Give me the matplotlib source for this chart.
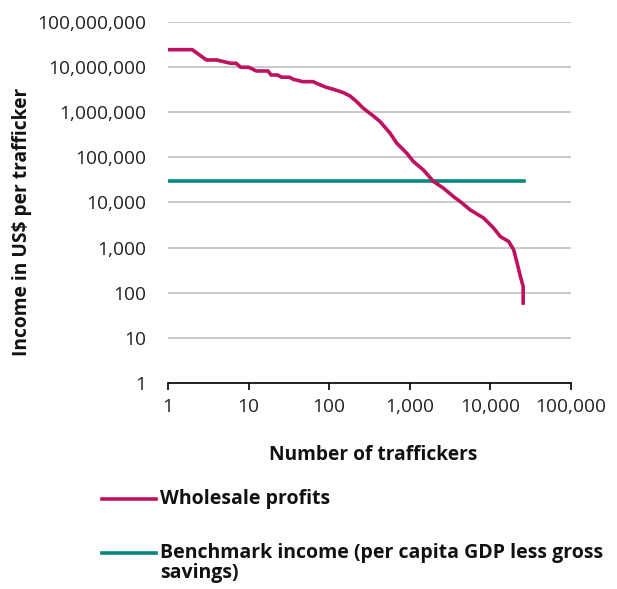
import numpy as np
import matplotlib
matplotlib.use("Agg")
import matplotlib.pyplot as plt
from matplotlib.lines import Line2D
from matplotlib.ticker import FixedLocator, FuncFormatter

# Wholesale profits per trafficker, ranked (cumulative number of traffickers)
traffickers = [1, 2, 3, 4, 6, 7, 8, 10, 12.5, 17.4, 19, 23, 25.6, 32, 36, 47, 63,
               77, 93, 112, 149, 181, 219, 265, 352, 428, 569, 689, 918, 1109,
               1477, 1966, 2618, 3484, 4225, 5620, 8230, 10960, 13280, 16840,
               19440, 21440, 23570, 25500, 25500]
profits = [24e6, 24e6, 14.2e6, 14.2e6, 12e6, 12e6, 9.8e6, 9.8e6, 8.1e6, 8.1e6,
           6.6e6, 6.6e6, 5.9e6, 5.9e6, 5.3e6, 4.7e6, 4.7e6, 4.0e6, 3.5e6, 3.2e6,
           2.7e6, 2.27e6, 1.7e6, 1.21e6, 820e3, 614e3, 340e3, 204e3, 122e3, 80e3,
           52e3, 29e3, 20.6e3, 13.4e3, 10.4e3, 6.8e3, 4.5e3, 2.7e3, 1750, 1360,
           890, 452, 228, 137, 59]

# Benchmark income (per capita GDP less gross savings)
benchmark_x = [1, 26000]
benchmark_y = [30000, 30000]

x_ticks = [1, 10, 100, 1000, 10000, 100000]
y_ticks = [1, 10, 100, 1000, 10000, 100000, 1000000, 10000000, 100000000]

magenta = '#BE1260'
teal = '#00897B'

plt.rcParams['font.family'] = ['Open Sans', 'DejaVu Sans']

fig = plt.figure(figsize=(6.17, 5.89), dpi=100)
W, H = 617, 589
ax = fig.add_axes([168 / W, 1 - 383 / H, (571 - 168) / W, (383 - 21.7) / H])

ax.plot(traffickers, profits, color=magenta, lw=2.6, solid_joinstyle='miter', zorder=3)
ax.plot(benchmark_x, benchmark_y, color=teal, lw=2.6, zorder=2)

ax.set_xscale('log')
ax.set_yscale('log')
ax.set_xlim(1, 100000)
ax.set_ylim(1, 100000000)

comma = FuncFormatter(lambda v, p: f'{int(round(v)):,}')
ax.xaxis.set_major_locator(FixedLocator(x_ticks))
ax.yaxis.set_major_locator(FixedLocator(y_ticks))
ax.xaxis.set_minor_locator(FixedLocator([]))
ax.yaxis.set_minor_locator(FixedLocator([]))
ax.xaxis.set_major_formatter(comma)
ax.yaxis.set_major_formatter(comma)

ax.grid(axis='y', color='#C0C0C0', lw=1.2)
ax.set_axisbelow(True)
for s in ['left', 'right', 'top']:
    ax.spines[s].set_visible(False)
ax.spines['bottom'].set_color('black')
ax.spines['bottom'].set_linewidth(1.2)

ax.tick_params(axis='x', direction='out', length=5, width=1.2, color='black',
               labelsize=13.8, pad=6, labelcolor='#222222')
ax.tick_params(axis='y', length=0, labelsize=13.8, pad=16, labelcolor='#222222')

fig.text(373 / W, 1 - 455 / H, 'Number of traffickers', ha='center', va='center',
         fontsize=13.8, fontweight='bold', color='#111111')
fig.text(22 / W, 1 - 222 / H, 'Income in US$ per trafficker', ha='center', va='center',
         rotation=90, fontsize=13.8, fontweight='bold', color='#111111')

# Legend drawn by hand below the axis title
fig.add_artist(Line2D([102 / W, 156 / W], [1 - 499 / H, 1 - 499 / H],
                      transform=fig.transFigure, color=magenta, lw=2.6))
fig.text(160 / W, 1 - 499 / H, 'Wholesale profits', ha='left', va='center',
         fontsize=14, fontweight='bold', color='#111111')
fig.add_artist(Line2D([102 / W, 156 / W], [1 - 553 / H, 1 - 553 / H],
                      transform=fig.transFigure, color=teal, lw=2.6))
fig.text(160 / W, 1 - 543 / H, 'Benchmark income (per capita GDP less gross\nsavings)',
         ha='left', va='top', fontsize=14, fontweight='bold', color='#111111',
         linespacing=1.0)

fig.savefig('out.png', dpi=100)
